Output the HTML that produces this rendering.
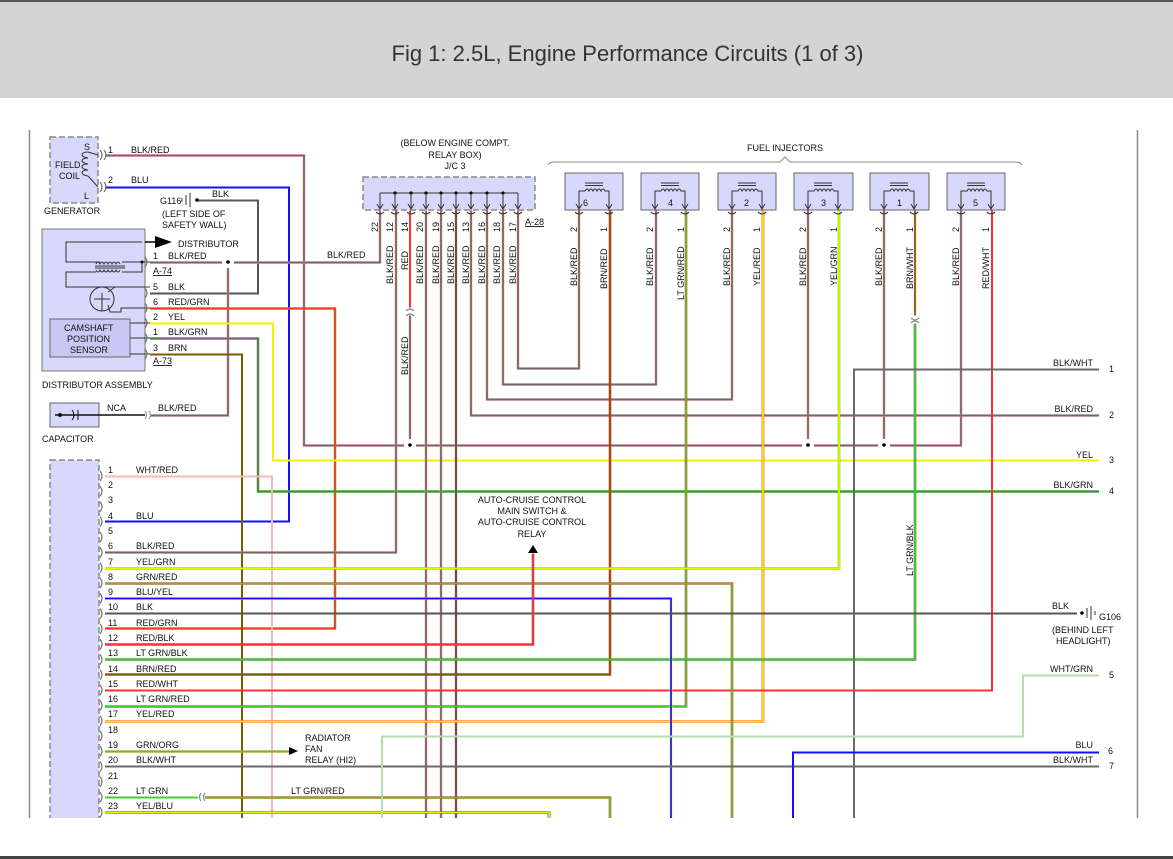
<!DOCTYPE html>
<html><head><meta charset="utf-8"><style>
html,body{margin:0;padding:0;background:#fff;}
body{width:1173px;height:859px;overflow:hidden;position:relative;font-family:"Liberation Sans",Arial,sans-serif;}
#hdr{position:absolute;left:0;top:0;width:1173px;height:98px;background:#d4d4d4;border-top:2px solid #555;box-sizing:border-box;}
#hdr div{position:absolute;left:0;right:0;top:39px;text-align:center;font-size:22px;color:#333;padding-left:82px;}
svg{position:absolute;left:0;top:0;}
svg text{font-family:"Liberation Sans",Arial,sans-serif;font-size:9px;fill:#111;}
</style></head><body>
<div id="hdr"><div>Fig 1: 2.5L, Engine Performance Circuits (1 of 3)</div></div>
<svg width="1173" height="859" viewBox="0 0 1173 859" xmlns="http://www.w3.org/2000/svg">
<line x1="29.5" y1="130" x2="29.5" y2="818" stroke="#888" stroke-width="1.5"/>
<line x1="1137.5" y1="130" x2="1137.5" y2="818" stroke="#888" stroke-width="1.5"/>
<rect x="50" y="137" width="48" height="66" fill="#d8d8fc" stroke="#888" stroke-width="1.5" stroke-dasharray="6,3"/>
<rect x="42" y="229" width="103" height="142" fill="#d8d8fc" stroke="#777" stroke-width="1"/>
<rect x="50" y="319" width="80" height="38" fill="#c8c8f4" stroke="#666" stroke-width="1"/>
<rect x="50" y="403" width="49" height="24" fill="#d8d8fc" stroke="#666" stroke-width="1"/>
<rect x="50" y="460" width="49" height="370" fill="#d8d8fc" stroke="#888" stroke-width="1.5" stroke-dasharray="6,3"/>
<rect x="363" y="177" width="172" height="33" fill="#d8d8fc" stroke="#888" stroke-width="1.5" stroke-dasharray="6,3"/>
<g fill="#d8d8fc" stroke="#666" stroke-width="1">
<rect x="565" y="173" width="58" height="37"/><rect x="641" y="173" width="58" height="37"/><rect x="718" y="173" width="58" height="37"/>
<rect x="794" y="173" width="59" height="37"/><rect x="870" y="173" width="59" height="37"/><rect x="947" y="173" width="58" height="37"/>
</g>
<g id="wires"></g>
<path d="M88,152 c-8,0 -8,5 0,6 c-8,0 -8,5 0,6 c-8,0 -8,5 0,6 c-8,0 -8,5 0,6" fill="none" stroke="#333"/>
<path d="M88,152 l10,3 M88,176 l10,11" stroke="#333" fill="none"/>
<g stroke="#333" fill="none" stroke-width="1">
<polyline points="142,242 66,242 66,262 100,262"/>
<polyline points="122,262 150,262"/>
<polyline points="122,272 142,272 142,262"/>
<line x1="95" y1="266" x2="125" y2="266"/><line x1="95" y1="268" x2="125" y2="268"/>
<path d="M96,264 q2,-4 4,0 q2,-4 4,0 q2,-4 4,0 q2,-4 4,0 q2,-4 4,0 q2,-4 4,0"/>
<path d="M96,270 q2,4 4,0 q2,4 4,0 q2,4 4,0 q2,4 4,0 q2,4 4,0 q2,4 4,0"/>
<polyline points="96,272 66,272 66,287 150,287"/>
<circle cx="102" cy="299" r="12"/>
<line x1="102" y1="293" x2="102" y2="311"/><line x1="94" y1="299" x2="110" y2="299"/>
<polyline points="108,292 115,287"/><polyline points="108,305 110,312 121,312 121,308 150,308"/>
<line x1="130" y1="323" x2="150" y2="323"/><line x1="130" y1="338" x2="150" y2="338"/><line x1="130" y1="354" x2="150" y2="354"/>
</g>
<circle cx="142" cy="262" r="1.5" fill="#000"/>
<polygon points="155,236 172,242 155,248" fill="#000"/>
<line x1="145" y1="242" x2="156" y2="242" stroke="#000" stroke-width="1.5"/>
<line x1="55" y1="415" x2="145" y2="415" stroke="#111" stroke-width="1.5"/>
<circle cx="60" cy="415" r="2" fill="#111"/>
<line x1="78" y1="410" x2="78" y2="420" stroke="#111"/><path d="M72,410 q4,5 0,10" stroke="#111" fill="none"/>
<g stroke="#999" fill="none" stroke-width="1.2">
<path d="M145,411 q3,4 0,8 M149,411 q3,4 0,8"/>
</g>
<g stroke="#777" fill="none" stroke-width="1.2" id="arcs"></g>
<g stroke="#333" fill="none" stroke-width="1">
<line x1="380" y1="193" x2="518" y2="193"/>
</g>
<g fill="#000" id="busdots"></g>
<g id="inj" stroke="#333" fill="none"></g>
<path d="M548,165 q2,-3 6,-3 L780,162 l5,-5 l5,5 L1016,162 q4,0 6,3" fill="none" stroke="#888"/>
<g stroke="#333" fill="none"><line x1="186" y1="195" x2="186" y2="205"/><line x1="190" y1="193" x2="190" y2="207"/><line x1="182" y1="198" x2="182" y2="202"/></g>
<circle cx="197" cy="200" r="1.8" fill="#000"/>
<g stroke="#333" fill="none"><line x1="1087" y1="608" x2="1087" y2="618"/><line x1="1091" y1="606" x2="1091" y2="620"/><line x1="1095" y1="611" x2="1095" y2="615"/></g>
<circle cx="1082" cy="613" r="1.8" fill="#000"/>
<polygon points="289,747 298,751 289,755" fill="#000"/>
<polygon points="528,553 533,545 538,553" fill="#000"/>
<g stroke="#888" fill="none" stroke-width="1.2">
<path d="M406,311 q4,-4 8,0 M406,316 q4,-4 8,0"/>
<path d="M911,318 q4,4 8,0 M911,323 q4,-4 8,0"/>
<path d="M201,793 q-3,4 0,8 M205,793 q-3,4 0,8"/>
</g>
<g>
<circle cx="228" cy="262" r="6" fill="#fff"/><circle cx="228" cy="262" r="1.8" fill="#000"/>
<circle cx="410" cy="445" r="6" fill="#fff"/><circle cx="410" cy="445" r="1.8" fill="#000"/>
<circle cx="808" cy="445" r="6" fill="#fff"/><circle cx="808" cy="445" r="1.8" fill="#000"/>
<circle cx="884" cy="445" r="6" fill="#fff"/><circle cx="884" cy="445" r="1.8" fill="#000"/>
</g>
<text x="84" y="150">S</text><text x="55" y="168">FIELD</text><text x="59" y="179">COIL</text><text x="84" y="199">L</text>
<text x="44" y="214">GENERATOR</text>
<text x="108" y="153">1</text><text x="131" y="153">BLK/RED</text>
<text x="108" y="183">2</text><text x="131" y="183">BLU</text>
<text x="160" y="204">G116</text><text x="212" y="197">BLK</text>
<text x="162" y="217">(LEFT SIDE OF</text><text x="162" y="228">SAFETY WALL)</text>
<text x="178" y="247">DISTRIBUTOR</text>
<text x="153" y="259">1</text><text x="168" y="259">BLK/RED</text>
<text x="153" y="274" text-decoration="underline">A-74</text>
<text x="153" y="290">5</text><text x="168" y="290">BLK</text>
<text x="153" y="305">6</text><text x="168" y="305">RED/GRN</text>
<text x="153" y="320">2</text><text x="168" y="320">YEL</text>
<text x="153" y="335">1</text><text x="168" y="335">BLK/GRN</text>
<text x="153" y="351">3</text><text x="168" y="351">BRN</text>
<text x="153" y="364" text-decoration="underline">A-73</text>
<text x="64" y="331">CAMSHAFT</text><text x="67" y="342">POSITION</text><text x="70" y="353">SENSOR</text>
<text x="42" y="388">DISTRIBUTOR ASSEMBLY</text>
<text x="107" y="411">NCA</text><text x="158" y="411">BLK/RED</text>
<text x="42" y="442">CAPACITOR</text>
<text x="327" y="258">BLK/RED</text>
<text x="455" y="146" text-anchor="middle">(BELOW ENGINE COMPT.</text>
<text x="455" y="158" text-anchor="middle">RELAY BOX)</text>
<text x="455" y="169" text-anchor="middle">J/C 3</text>
<text x="525" y="225" text-decoration="underline">A-28</text>
<text x="785" y="151" text-anchor="middle">FUEL INJECTORS</text>
<g id="vtexts">
<text transform="translate(378,232) rotate(-90)">22</text>
<text transform="translate(393,232) rotate(-90)">12</text>
<text transform="translate(408,232) rotate(-90)">14</text>
<text transform="translate(423,232) rotate(-90)">20</text>
<text transform="translate(439,232) rotate(-90)">19</text>
<text transform="translate(454,232) rotate(-90)">15</text>
<text transform="translate(469,232) rotate(-90)">13</text>
<text transform="translate(485,232) rotate(-90)">16</text>
<text transform="translate(500,232) rotate(-90)">18</text>
<text transform="translate(516,232) rotate(-90)">17</text>
<text transform="translate(393,284) rotate(-90)">BLK/RED</text>
<text transform="translate(408,270) rotate(-90)">RED</text>
<text transform="translate(423,284) rotate(-90)">BLK/RED</text>
<text transform="translate(439,284) rotate(-90)">BLK/RED</text>
<text transform="translate(454,284) rotate(-90)">BLK/RED</text>
<text transform="translate(469,284) rotate(-90)">BLK/RED</text>
<text transform="translate(485,284) rotate(-90)">BLK/RED</text>
<text transform="translate(500,284) rotate(-90)">BLK/RED</text>
<text transform="translate(516,284) rotate(-90)">BLK/RED</text>
<text transform="translate(408,375) rotate(-90)">BLK/RED</text>
<text transform="translate(577,232) rotate(-90)">2</text><text transform="translate(607,232) rotate(-90)">1</text>
<text transform="translate(653,232) rotate(-90)">2</text><text transform="translate(684,232) rotate(-90)">1</text>
<text transform="translate(730,232) rotate(-90)">2</text><text transform="translate(760,232) rotate(-90)">1</text>
<text transform="translate(806,232) rotate(-90)">2</text><text transform="translate(837,232) rotate(-90)">1</text>
<text transform="translate(882,232) rotate(-90)">2</text><text transform="translate(913,232) rotate(-90)">1</text>
<text transform="translate(959,232) rotate(-90)">2</text><text transform="translate(989,232) rotate(-90)">1</text>
<text transform="translate(577,286) rotate(-90)">BLK/RED</text><text transform="translate(607,289) rotate(-90)">BRN/RED</text>
<text transform="translate(653,286) rotate(-90)">BLK/RED</text><text transform="translate(684,300) rotate(-90)">LT GRN/RED</text>
<text transform="translate(730,286) rotate(-90)">BLK/RED</text><text transform="translate(760,286) rotate(-90)">YEL/RED</text>
<text transform="translate(806,286) rotate(-90)">BLK/RED</text><text transform="translate(837,286) rotate(-90)">YEL/GRN</text>
<text transform="translate(882,286) rotate(-90)">BLK/RED</text><text transform="translate(913,289) rotate(-90)">BRN/WHT</text>
<text transform="translate(959,286) rotate(-90)">BLK/RED</text><text transform="translate(989,289) rotate(-90)">RED/WHT</text>
<text transform="translate(913,576) rotate(-90)">LT GRN/BLK</text>
</g>
<g font-size="9">
<text x="108" y="473">1</text><text x="136" y="473">WHT/RED</text>
<text x="108" y="488">2</text><text x="108" y="503">3</text>
<text x="108" y="519">4</text><text x="136" y="519">BLU</text>
<text x="108" y="534">5</text>
<text x="108" y="549">6</text><text x="136" y="549">BLK/RED</text>
<text x="108" y="565">7</text><text x="136" y="565">YEL/GRN</text>
<text x="108" y="580">8</text><text x="136" y="580">GRN/RED</text>
<text x="108" y="595">9</text><text x="136" y="595">BLU/YEL</text>
<text x="108" y="610">10</text><text x="136" y="610">BLK</text>
<text x="108" y="626">11</text><text x="136" y="626">RED/GRN</text>
<text x="108" y="641">12</text><text x="136" y="641">RED/BLK</text>
<text x="108" y="656">13</text><text x="136" y="656">LT GRN/BLK</text>
<text x="108" y="672">14</text><text x="136" y="672">BRN/RED</text>
<text x="108" y="687">15</text><text x="136" y="687">RED/WHT</text>
<text x="108" y="702">16</text><text x="136" y="702">LT GRN/RED</text>
<text x="108" y="717">17</text><text x="136" y="717">YEL/RED</text>
<text x="108" y="733">18</text>
<text x="108" y="748">19</text><text x="136" y="748">GRN/ORG</text>
<text x="108" y="763">20</text><text x="136" y="763">BLK/WHT</text>
<text x="108" y="779">21</text>
<text x="108" y="794">22</text><text x="136" y="794">LT GRN</text>
<text x="108" y="809">23</text><text x="136" y="809">YEL/BLU</text>
<text x="291" y="794">LT GRN/RED</text>
</g>
<text x="305" y="741">RADIATOR</text><text x="305" y="752">FAN</text><text x="305" y="763">RELAY (HI2)</text>
<text x="532" y="503" text-anchor="middle">AUTO-CRUISE CONTROL</text>
<text x="532" y="514" text-anchor="middle">MAIN SWITCH &amp;</text>
<text x="532" y="525" text-anchor="middle">AUTO-CRUISE CONTROL</text>
<text x="532" y="537" text-anchor="middle">RELAY</text>
<g text-anchor="end">
<text x="1093" y="366">BLK/WHT</text><text x="1093" y="412">BLK/RED</text><text x="1093" y="458">YEL</text>
<text x="1093" y="488">BLK/GRN</text><text x="1069" y="609">BLK</text><text x="1093" y="672">WHT/GRN</text>
<text x="1093" y="748">BLU</text><text x="1093" y="763">BLK/WHT</text>
</g>
<text x="1099" y="620">G106</text><text x="1052" y="633">(BEHIND LEFT</text><text x="1056" y="644">HEADLIGHT)</text>
<g><text x="1109" y="372">1</text><text x="1109" y="418">2</text><text x="1109" y="463">3</text><text x="1109" y="494">4</text><text x="1109" y="678">5</text><text x="1108" y="754">6</text><text x="1109" y="769">7</text></g>
<text x="583" y="206">6</text><text x="668" y="206">4</text><text x="744" y="206">2</text><text x="821" y="206">3</text><text x="897" y="206">1</text><text x="973" y="206">5</text>
<rect x="0" y="818" width="1173" height="38" fill="#fff"/>
<rect x="0" y="856" width="1173" height="3" fill="#444"/>
<script><![CDATA[
(function(){
var NS="http://www.w3.org/2000/svg";
var G="#6a6a6a",PK="#ff9a9a",R="#ff3030",Y="#f4f000",B="#1010ff",GR="#40d030",BR="#805800",WP="#f6b8b8",WG="#b8dcb0",DG="#555";
var W=[
[[105,155,304,155,304,445,961,445,961,210],G,PK],
[[808,210,808,445]],[[884,210,884,445]],
[[410,315,410,445],G,PK],[[410,210,410,307],R,null],
[[105,187,289,187,289,521,105,521],B,null],
[[197,200,258,200,258,293,150,293],DG,null],
[[150,262,380,262,380,210],G,PK],
[[228,262,228,415,150,415],G,PK],
[[150,308,335,308,335,628,105,628],R,GR],
[[150,323,273,323,273,460,1099,460],Y,null],
[[150,338,258,338,258,491,1099,491],G,GR],
[[150,354,242,354,242,830],BR,null],
[[105,476,272,476,272,830],WP,null],
[[105,552,396,552,396,210],G,PK],
[[426,210,426,830],G,PK],[[441,210,441,830],G,PK],[[456,210,456,830],"#444",PK],
[[471,210,471,415,1099,415],G,PK],
[[487,210,487,399,732,399,732,210],G,PK],
[[503,210,503,384,656,384,656,210],G,PK],
[[518,210,518,368,579,368,579,210],G,PK],
[[610,210,610,674,105,674],BR,R],
[[686,210,686,706,105,706],GR,R],
[[763,210,763,721,105,721],Y,R],
[[839,210,839,568,105,568],Y,GR],
[[915,210,915,315],BR,WP],
[[915,323,915,659,105,659],GR,G],
[[992,210,992,690,105,690],R,null],
[[105,583,732,583,732,830],GR,R],
[[105,598,671,598,671,830],B,Y],
[[105,613,1077,613],DG,null],
[[105,644,533,644,533,553],R,G],
[[105,751,289,751],GR,"#f0a040"],
[[105,766,1099,766],G,null],
[[105,797,198,797],GR,null],
[[205,797,610,797,610,830],GR,R],
[[105,812,549,812,549,830],Y,B],
[[1099,369,854,369,854,830],G,null],
[[1099,675,1023,675,1023,736,382,736,382,830],WG,null],
[[1099,752,793,752,793,830],B,null]
];
var g=document.getElementById("wires");
W.forEach(function(w){
 var p=w[0],c1=w[1]||G,c2=(w.length<2)?PK:w[2];
 var s="";for(var i=0;i<p.length;i+=2)s+=p[i]+","+(p[i+1]+0.5)+" ";
 if(c2){var a=document.createElementNS(NS,"polyline");a.setAttribute("points",s);a.setAttribute("fill","none");a.setAttribute("stroke",c2);a.setAttribute("stroke-width","2.6");g.appendChild(a);}
 var b=document.createElementNS(NS,"polyline");b.setAttribute("points",s);b.setAttribute("fill","none");b.setAttribute("stroke",c1);b.setAttribute("stroke-width",c2?"1.7":"2");g.appendChild(b);
});
var ar=document.getElementById("arcs"),d="";
for(var n=0;n<24;n++){var y=476+n*15.29;d+="M100,"+(y-5)+" q4,5 0,10 ";}
[155,187].forEach(function(y){d+="M100,"+(y-5)+" q4,5 0,10 M104,"+(y-5)+" q4,5 0,10 ";});
[262,293,308,323,338,354].forEach(function(y){d+="M145,"+(y-5)+" q4,5 0,10 ";});
var pa=document.createElementNS(NS,"path");pa.setAttribute("d",d);ar.appendChild(pa);
var bd=document.getElementById("busdots"),bs="";
[380,395,411,426,441,456,471,487,503,518].forEach(function(x,i){
 var c=document.createElementNS(NS,"circle");c.setAttribute("cx",x);c.setAttribute("cy",193);c.setAttribute("r",1.6);if(i>0&&i<9)bd.appendChild(c);
 bs+="M"+x+",193 L"+x+",208 M"+(x-3)+",204 L"+x+",209 L"+(x+3)+",204 M"+(x-4)+",212 q4,4 8,0 ";
});
var pb=document.createElementNS(NS,"path");pb.setAttribute("d",bs);pb.setAttribute("stroke","#333");pb.setAttribute("fill","none");document.getElementById("inj").appendChild(pb);
var inj=document.getElementById("inj"),ds="";
[565,641,718,794,870,947].forEach(function(x){
 var l=x+14,r=x+44;
 ds+="M"+(x+20)+",183 h18 M"+(x+20)+",185.5 h18 ";
 ds+="M"+l+",208 V191 H"+(x+20)+" q2,-4 4,0 q2,-4 4,0 q2,-4 4,0 q2,-4 4,0 q2,-4 4,0 H"+r+" V208 ";
 ds+="M"+(l-3)+",204 L"+l+",209 L"+(l+3)+",204 M"+(r-3)+",204 L"+r+",209 L"+(r+3)+",204 ";
 ds+="M"+(l-4)+",212 q4,4 8,0 M"+(r-4)+",212 q4,4 8,0 ";
});
var pi=document.createElementNS(NS,"path");pi.setAttribute("d",ds);inj.appendChild(pi);
})();
]]></script>
</svg>
</body></html>
